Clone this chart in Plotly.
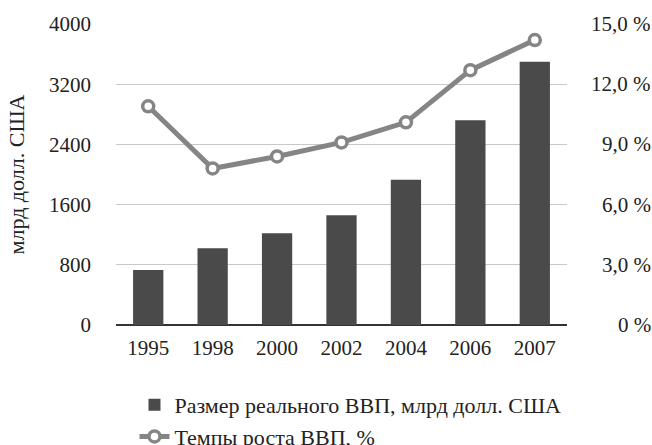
import plotly.graph_objects as go

years = ["1995", "1998", "2000", "2002", "2004", "2006", "2007"]
gdp = [730, 1020, 1220, 1460, 1930, 2720, 3500]
growth = [10.9, 7.8, 8.4, 9.1, 10.1, 12.7, 14.2]
left_ticks = [0, 800, 1600, 2400, 3200, 4000]
right_ticks = [0, 3, 6, 9, 12, 15]
right_labels = ["0 %", "3,0 %", "6,0 %", "9,0 %", "12,0 %", "15,0 %"]

FONT = "Liberation Serif"
FS = 21
fig = go.Figure()
fig.add_trace(go.Bar(x=years, y=gdp, name="Размер реального ВВП, млрд долл. США",
                     marker=dict(color="#4a4a4a", line=dict(width=0)), yaxis="y"))
fig.add_trace(go.Scatter(x=years, y=growth, name="Темпы роста ВВП, %", yaxis="y2",
                         mode="lines+markers",
                         line=dict(color="#858585", width=5),
                         marker=dict(symbol="circle", size=11, color="white",
                                     line=dict(color="#858585", width=3.5))))

for v, t in zip(right_ticks, right_labels):
    fig.add_annotation(x=1.19, xref="paper", y=v, yref="y2", text=t,
                       showarrow=False, xanchor="right", yanchor="middle",
                       font=dict(family=FONT, size=FS, color="#222"))

fig.update_layout(
    width=652, height=445,
    margin=dict(l=116, r=85, t=24, b=120, autoexpand=False),
    paper_bgcolor="white", plot_bgcolor="white",
    font=dict(family=FONT, size=FS, color="#222"),
    bargap=0.53,
    showlegend=True,
    legend=dict(x=0.041, y=-0.196, xanchor="left", yanchor="top",
                font=dict(family=FONT, size=22, color="#222"),
                tracegroupgap=0, itemwidth=30),
    xaxis=dict(type="category", showgrid=False, showline=False, ticks="",
               tickfont=dict(size=FS), ticklabelstandoff=8),
    yaxis=dict(range=[0, 4000], tickvals=left_ticks, showgrid=True,
               gridcolor="#c8c8c8", gridwidth=1, zeroline=True,
               zerolinecolor="#333", zerolinewidth=2, ticks="",
               ticklabelstandoff=24,
               title=dict(text="млрд долл. США", font=dict(size=22), standoff=18),
               tickfont=dict(size=FS), automargin=False),
    yaxis2=dict(range=[0, 15], overlaying="y", side="right", tickvals=right_ticks,
                showticklabels=False, showgrid=False, zeroline=False, ticks=""),
)

fig.write_html("out.html")
